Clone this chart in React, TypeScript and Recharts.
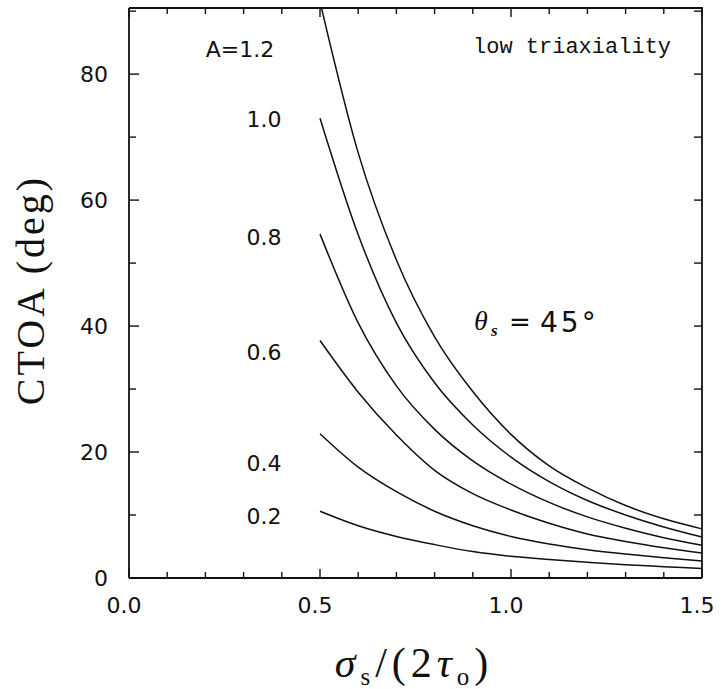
import { Line, LineChart, XAxis, YAxis } from "recharts";

// sampled curves, CTOA (deg) vs sigma_s / (2 tau_o), one list per A value
const X_VALUES = [0.5, 0.6, 0.7, 0.8, 0.9, 1.0, 1.1, 1.2, 1.3, 1.4, 1.5];
const CTOA_A12 = [91.5, 67.5, 50.5, 38.3, 29.6, 22.8, 17.8, 14.3, 11.5, 9.4, 7.8];
const CTOA_A10 = [73, 54.5, 40.5, 31.0, 24.3, 19.2, 15.3, 12.3, 10.0, 8.1, 6.5];
const CTOA_A08 = [54.6, 40.5, 30.5, 23.6, 18.6, 14.9, 12.0, 9.7, 7.9, 6.4, 5.2];
const CTOA_A06 = [37.7, 29.5, 22.7, 17.1, 13.4, 10.8, 8.7, 7.0, 5.8, 4.8, 3.96];
const CTOA_A04 = [22.9, 17.6, 13.7, 10.6, 8.3, 6.6, 5.4, 4.5, 3.8, 3.2, 2.7];
const CTOA_A02 = [10.6, 8.3, 6.6, 5.3, 4.2, 3.45, 2.95, 2.5, 2.1, 1.8, 1.5];

const SERIES_KEYS = ["a12", "a10", "a08", "a06", "a04", "a02"];
const CURVE_LABELS = ["A=1.2", "1.0", "0.8", "0.6", "0.4", "0.2"];

const X_MAX = 1.5;
const Y_MAX = 90.5;
const X_TICKS = [0, 0.1, 0.2, 0.3, 0.4, 0.5, 0.6, 0.7, 0.8, 0.9, 1.0, 1.1, 1.2, 1.3, 1.4, 1.5];
const X_LABELED = [0, 0.5, 1.0, 1.5];
const Y_TICKS = [0, 10, 20, 30, 40, 50, 60, 70, 80, 90];
const Y_LABELED = [0, 20, 40, 60, 80];

const datos = X_VALUES.map((x, i) => ({
  x,
  a12: CTOA_A12[i],
  a10: CTOA_A10[i],
  a08: CTOA_A08[i],
  a06: CTOA_A06[i],
  a04: CTOA_A04[i],
  a02: CTOA_A02[i],
}));

const W = 725;
const H = 689;
const PLOT = { left: 129, right: 702, top: 8, bottom: 578 };
const INK = "#111";
const NUM_FONT = "'DejaVu Sans', sans-serif";
const SERIF = "'Liberation Serif', serif";

const esMarca = (lista: number[], v: number) => lista.some((t) => Math.abs(t - v) < 1e-6);
// same mapping the chart uses for its plot box (for the top / right frame ticks)
const aPixX = (v: number) => PLOT.left + (v / X_MAX) * (PLOT.right - PLOT.left);
const aPixY = (v: number) => PLOT.bottom - (v / Y_MAX) * (PLOT.bottom - PLOT.top);

function TickAbajo({ x, payload }: any) {
  const v = payload.value as number;
  const mayor = esMarca(X_LABELED, v);
  return (
    <g>
      <line x1={x} x2={x} y1={PLOT.bottom} y2={PLOT.bottom - (mayor ? 9 : 6)} stroke={INK} strokeWidth={1.4} />
      {mayor && (
        <text x={x - 5} y={613} textAnchor="middle" fontSize={22} fontFamily={NUM_FONT} fill={INK}>
          {v.toFixed(1)}
        </text>
      )}
    </g>
  );
}

function TickIzq({ y, payload }: any) {
  const v = payload.value as number;
  const mayor = esMarca(Y_LABELED, v);
  return (
    <g>
      <line x1={PLOT.left} x2={PLOT.left + (mayor ? 10 : 7)} y1={y} y2={y} stroke={INK} strokeWidth={1.4} />
      {mayor && (
        <text x={108} y={y + 8} textAnchor="end" fontSize={22} fontFamily={NUM_FONT} fill={INK}>
          {v}
        </text>
      )}
    </g>
  );
}

// where each curve label sits (centre x, baseline y)
const POS_ETIQUETAS = [
  [240, 57],
  [264, 127],
  [264, 245],
  [264, 360],
  [264, 471],
  [264, 524],
];

export default function App() {
  const eje = { stroke: INK, strokeWidth: 1.8 };
  return (
    <div style={{ position: "absolute", left: 0, top: 0, width: W, height: H, background: "#fff" }}>
      <LineChart width={W} height={H} data={datos} margin={{ top: 8, right: 23, left: 69, bottom: 71 }}>
        <XAxis
          dataKey="x"
          type="number"
          domain={[0, X_MAX]}
          ticks={X_TICKS}
          interval={0}
          height={40}
          axisLine={eje}
          tickLine={false}
          tick={<TickAbajo />}
        />
        <YAxis
          type="number"
          domain={[0, Y_MAX]}
          allowDataOverflow
          ticks={Y_TICKS}
          interval={0}
          width={60}
          axisLine={eje}
          tickLine={false}
          tick={<TickIzq />}
        />
        {SERIES_KEYS.map((k) => (
          <Line
            key={k}
            dataKey={k}
            type="monotone"
            stroke={INK}
            strokeWidth={1.5}
            dot={false}
            isAnimationActive={false}
          />
        ))}
      </LineChart>
      <svg width={W} height={H} style={{ position: "absolute", left: 0, top: 0, pointerEvents: "none" }}>
        {/* top and right sides of the frame, with their inward ticks */}
        <polyline
          points={`${PLOT.left},${PLOT.top} ${PLOT.right},${PLOT.top} ${PLOT.right},${PLOT.bottom}`}
          fill="none"
          stroke={INK}
          strokeWidth={1.8}
        />
        {X_TICKS.map((t) => (
          <line
            key={`t${t}`}
            x1={aPixX(t)}
            x2={aPixX(t)}
            y1={PLOT.top}
            y2={PLOT.top + (esMarca(X_LABELED, t) ? 9 : 6)}
            stroke={INK}
            strokeWidth={1.4}
          />
        ))}
        {Y_TICKS.map((t) => (
          <line
            key={`r${t}`}
            x1={PLOT.right}
            x2={PLOT.right - 8}
            y1={aPixY(t)}
            y2={aPixY(t)}
            stroke={INK}
            strokeWidth={1.4}
          />
        ))}
        {CURVE_LABELS.map((t, i) => (
          <text
            key={t}
            x={POS_ETIQUETAS[i][0]}
            y={POS_ETIQUETAS[i][1]}
            textAnchor="middle"
            fontSize={22}
            fontFamily={NUM_FONT}
            fill={INK}
          >
            {t}
          </text>
        ))}
        <text x={473} y={53} fontSize={22} fontFamily="'Liberation Mono', monospace" fill={INK}>
          low triaxiality
        </text>
        <text x={474} y={330} fontSize={28} fontFamily={SERIF} fontStyle="italic" fill={INK}>
          θ
        </text>
        <text x={491} y={336} fontSize={17} fontFamily={SERIF} fontStyle="italic" fontWeight="bold" fill={INK}>
          s
        </text>
        <text x={520} y={331} textAnchor="middle" fontSize={26} fontFamily={NUM_FONT} fill={INK}>
          =
        </text>
        <text x={540} y={332} fontSize={28} fontFamily={NUM_FONT} letterSpacing={3} fill={INK}>
          45°
        </text>
        <text
          x={44}
          y={290}
          transform="rotate(-90 44 290)"
          textAnchor="middle"
          fontSize={40}
          fontFamily={SERIF}
          letterSpacing={3}
          fill={INK}
        >
          CTOA (deg)
        </text>
        <text x={414} y={677} textAnchor="middle" fontSize={42} fontFamily={SERIF} fill={INK} letterSpacing={5}>
          <tspan fontStyle="italic">σ</tspan>
          <tspan fontSize={25} dy={8}>s</tspan>
          <tspan dy={-8}>/(2</tspan>
          <tspan fontStyle="italic">τ</tspan>
          <tspan fontSize={25} dy={8}>o</tspan>
          <tspan dy={-8}>)</tspan>
        </text>
      </svg>
    </div>
  );
}
